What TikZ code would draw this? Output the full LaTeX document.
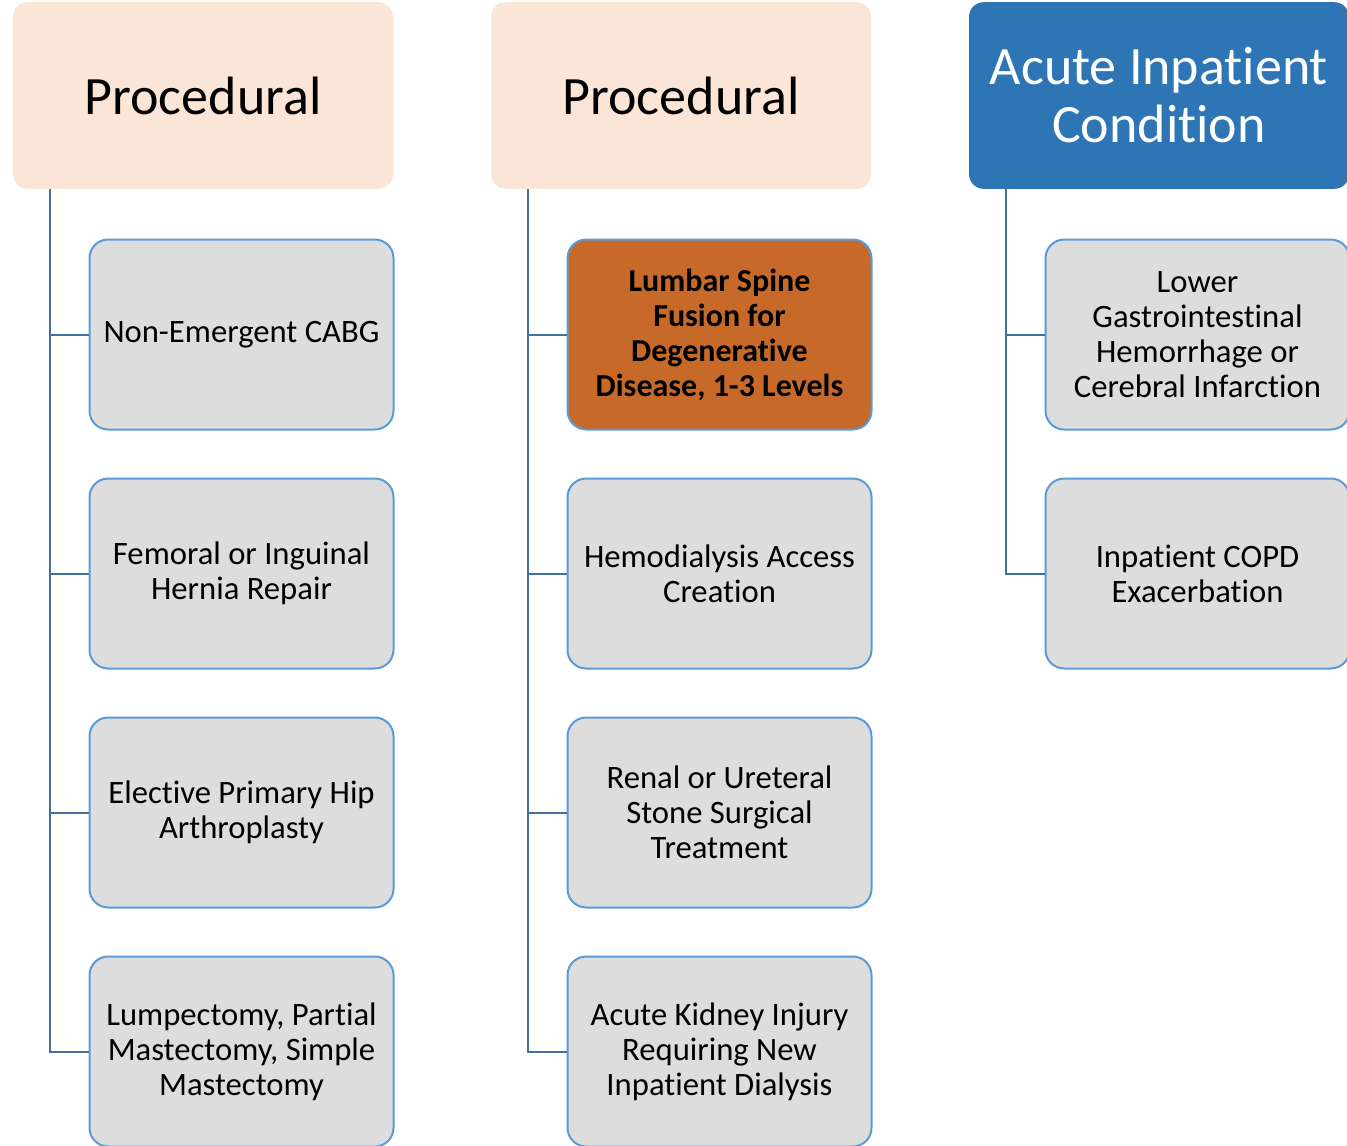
\documentclass[tikz,border=0pt]{standalone}
\usepackage{fontspec}
\setmainfont{Carlito}[Ligatures={NoCommon,NoContextual}, Contextuals=NoAlternate]
\usetikzlibrary{positioning}
\definecolor{peach}{HTML}{FBE5D6}
\definecolor{hdrblue}{HTML}{2E75B6}
\definecolor{boxgray}{HTML}{DDDDDD}
\definecolor{edgeblue}{HTML}{5B9BD5}
\definecolor{linkblue}{HTML}{41719C}
\definecolor{rust}{HTML}{C76A29}
\begin{document}
\begin{tikzpicture}[
    x=0.75pt, y=-0.75pt,
    node distance=35.25pt,
    head/.style={rounded corners=11pt, align=center, inner sep=0pt,
                 minimum width=285pt, minimum height=140pt,
                 font=\fontsize{40.5}{43.5}\selectfont},
    proc/.style={head, fill=peach},
    cond/.style={head, fill=hdrblue, text=white},
    item/.style={draw=edgeblue, line width=1.5pt, fill=boxgray, rounded corners=14pt,
                 align=center, inner sep=0pt, minimum width=228pt, minimum height=142.5pt,
                 font=\fontsize{24.5}{26.25}\selectfont},
    pick/.style={item, fill=rust, font=\bfseries\fontsize{24}{26.25}\selectfont},
    link/.style={linkblue, line width=1.5pt},
]
\useasboundingbox (0,0) rectangle (1347,1146);
% column headers
\node[proc] (hdr1) at (203,95.5)  {Procedural};
\node[proc] (hdr2) at (681,95.5)  {Procedural};
\node[cond] (hdr3) at (1159,95.5) {Acute Inpatient\\Condition};
% first column
\node[item] (a1) at (241.5,334.5) {Non-Emergent CABG};
\node[item, below=of a1] (a2) {Femoral or Inguinal\\Hernia Repair};
\node[item, below=of a2] (a3) {Elective Primary Hip\\Arthroplasty};
\node[item, below=of a3] (a4) {Lumpectomy, Partial\\Mastectomy, Simple\\Mastectomy};
% second column
\node[pick] (b1) at (719.5,334.5) {Lumbar Spine\\Fusion for\\Degenerative\\Disease, 1-3 Levels};
\node[item, below=of b1] (b2) {Hemodialysis Access\\Creation};
\node[item, below=of b2] (b3) {Renal or Ureteral\\Stone Surgical\\Treatment};
\node[item, below=of b3] (b4) {Acute Kidney Injury\\Requiring New\\Inpatient Dialysis};
% third column
\node[item] (c1) at (1197.5,334.5) {Lower\\Gastrointestinal\\Hemorrhage or\\Cerebral Infarction};
\node[item, below=of c1] (c2) {Inpatient COPD\\Exacerbation};
% spines
\coordinate (s1) at ([xshift=27.75pt]hdr1.south west);
\coordinate (s2) at ([xshift=27.75pt]hdr2.south west);
\coordinate (s3) at ([xshift=27.75pt]hdr3.south west);
\draw[link] (s1) |- (a4.west);
\draw[link] (s1 |- a1.west) -- (a1.west);
\draw[link] (s1 |- a2.west) -- (a2.west);
\draw[link] (s1 |- a3.west) -- (a3.west);
\draw[link] (s2) |- (b4.west);
\draw[link] (s2 |- b1.west) -- (b1.west);
\draw[link] (s2 |- b2.west) -- (b2.west);
\draw[link] (s2 |- b3.west) -- (b3.west);
\draw[link] (s3) |- (c2.west);
\draw[link] (s3 |- c1.west) -- (c1.west);
\end{tikzpicture}
\end{document}
